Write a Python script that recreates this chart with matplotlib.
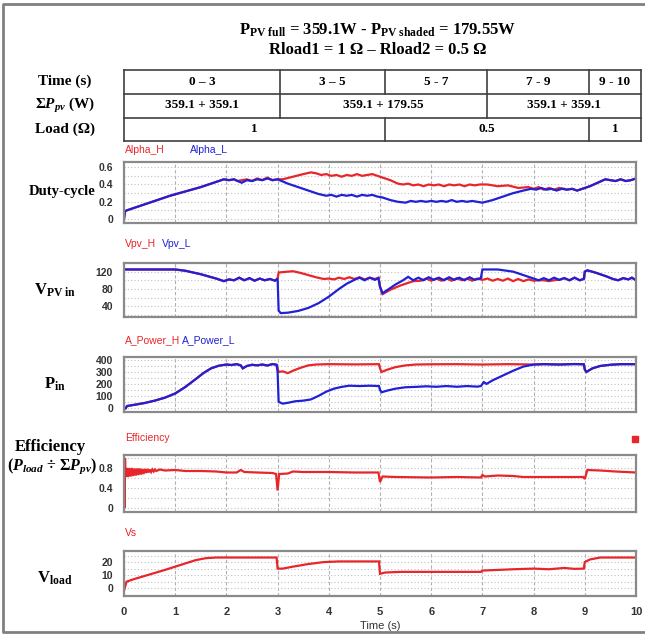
import matplotlib
matplotlib.use("Agg")
import matplotlib.pyplot as plt
import numpy as np
from matplotlib.ticker import MultipleLocator

# ---- data (time s, value) ----
alpha_l = [(0, 0), (0.02, 0.09), (0.05, 0.10), (0.3, 0.15), (0.6, 0.21), (0.9, 0.27),
           (1.2, 0.32), (1.5, 0.37), (1.8, 0.43), (1.95, 0.46), (2.05, 0.45), (2.15, 0.46),
           (2.22, 0.44), (2.3, 0.42), (2.4, 0.45), (2.5, 0.44), (2.6, 0.46), (2.7, 0.45),
           (2.8, 0.47), (2.9, 0.45), (3.0, 0.46), (3.2, 0.41), (3.4, 0.37), (3.6, 0.33),
           (3.8, 0.29), (3.95, 0.27), (4.05, 0.28), (4.15, 0.26), (4.25, 0.28), (4.35, 0.27),
           (4.45, 0.28), (4.55, 0.26), (4.65, 0.28), (4.75, 0.27), (4.85, 0.28), (4.95, 0.26),
           (5.05, 0.25), (5.2, 0.22), (5.35, 0.20), (5.5, 0.19), (5.6, 0.21), (5.7, 0.20),
           (5.8, 0.21), (5.9, 0.20), (6.0, 0.21), (6.1, 0.20), (6.2, 0.21), (6.3, 0.20),
           (6.4, 0.22), (6.5, 0.20), (6.6, 0.21), (6.7, 0.20), (6.8, 0.21), (6.9, 0.20),
           (7.0, 0.19), (7.2, 0.22), (7.4, 0.26), (7.6, 0.30), (7.8, 0.33), (7.95, 0.35),
           (8.05, 0.34), (8.15, 0.36), (8.25, 0.34), (8.35, 0.35), (8.45, 0.33), (8.55, 0.35),
           (8.65, 0.34), (8.75, 0.35), (8.85, 0.33), (8.95, 0.35), (9.1, 0.38), (9.25, 0.42),
           (9.4, 0.46), (9.5, 0.45), (9.6, 0.44), (9.7, 0.46), (9.8, 0.44), (9.9, 0.45),
           (10.0, 0.47)]
alpha_h_own = [(2.3, 0.45), (2.4, 0.46), (2.5, 0.44), (2.6, 0.47), (2.7, 0.45), (2.8, 0.48),
               (2.9, 0.45), (3.0, 0.46), (3.1, 0.46), (3.3, 0.49), (3.5, 0.52), (3.65, 0.54),
               (3.75, 0.53), (3.85, 0.51), (3.95, 0.52), (4.05, 0.50), (4.15, 0.51), (4.25, 0.49),
               (4.35, 0.51), (4.45, 0.50), (4.55, 0.52), (4.65, 0.50), (4.75, 0.51), (4.85, 0.52),
               (4.95, 0.50), (5.05, 0.48), (5.2, 0.45), (5.35, 0.41), (5.45, 0.40), (5.55, 0.41),
               (5.65, 0.39), (5.75, 0.40), (5.85, 0.38), (5.95, 0.40), (6.05, 0.39), (6.15, 0.40),
               (6.25, 0.38), (6.35, 0.40), (6.45, 0.39), (6.55, 0.40), (6.65, 0.38), (6.75, 0.40),
               (6.85, 0.39), (6.95, 0.40), (7.1, 0.40), (7.3, 0.38), (7.5, 0.39), (7.7, 0.36),
               (7.9, 0.37), (8.0, 0.35), (8.1, 0.37), (8.2, 0.34), (8.3, 0.36), (8.4, 0.34),
               (8.5, 0.36), (8.6, 0.35)]

vpv_l = [(0, 125), (0.5, 125), (1.0, 125), (1.2, 122), (1.5, 114), (1.8, 104), (1.95, 98),
         (2.05, 102), (2.15, 100), (2.25, 106), (2.35, 100), (2.45, 105), (2.55, 99), (2.65, 104),
         (2.75, 100), (2.85, 103), (2.95, 99), (3.0, 104), (3.02, 30), (3.06, 24), (3.2, 25),
         (3.4, 29), (3.6, 36), (3.8, 47), (4.0, 62), (4.2, 80), (4.35, 92), (4.5, 101), (4.6, 106),
         (4.7, 100), (4.8, 106), (4.9, 101), (4.97, 105), (5.0, 85), (5.05, 70), (5.15, 78),
         (5.3, 90), (5.45, 100), (5.55, 108), (5.65, 100), (5.75, 106), (5.85, 100), (5.95, 107),
         (6.05, 101), (6.15, 106), (6.25, 100), (6.35, 107), (6.45, 101), (6.55, 106), (6.65, 100),
         (6.75, 107), (6.85, 101), (6.97, 105), (7.0, 125), (7.3, 125), (7.6, 120), (7.8, 112),
         (8.0, 104), (8.1, 100), (8.2, 105), (8.3, 100), (8.4, 106), (8.5, 101), (8.6, 105),
         (8.7, 100), (8.8, 106), (8.9, 100), (8.98, 103), (9.0, 120), (9.05, 123), (9.2, 118),
         (9.4, 110), (9.55, 103), (9.65, 100), (9.75, 105), (9.85, 102), (9.92, 106), (10.0, 100)]
vpv_h_own = [(3.02, 118), (3.2, 120), (3.3, 121), (3.45, 117), (3.6, 112), (3.75, 107), (3.9, 103),
             (4.0, 104), (4.1, 102), (4.2, 106), (4.3, 103), (4.4, 107), (4.5, 103), (4.6, 107),
             (4.7, 102), (4.8, 106), (4.9, 103), (4.97, 106), (5.0, 85), (5.05, 68), (5.2, 78),
             (5.4, 88), (5.55, 94), (5.65, 98), (5.8, 99), (5.9, 104), (6.0, 99), (6.1, 104),
             (6.2, 99), (6.3, 104), (6.4, 99), (6.5, 105), (6.6, 100), (6.7, 104), (6.8, 99),
             (6.9, 104), (7.0, 101), (7.1, 104), (7.2, 99), (7.3, 103), (7.4, 99), (7.5, 104),
             (7.6, 98), (7.7, 103), (7.8, 98), (7.9, 102), (8.0, 99), (8.1, 100), (8.2, 100),
             (8.3, 98), (8.45, 101)]

pin_l = [(0, 0), (0.03, -5), (0.06, 15), (0.2, 25), (0.4, 40), (0.6, 60), (0.8, 85), (1.0, 120),
         (1.2, 175), (1.4, 240), (1.55, 290), (1.7, 330), (1.85, 352), (2.0, 362), (2.1, 358),
         (2.2, 365), (2.28, 355), (2.32, 330), (2.4, 350), (2.5, 360), (2.6, 355), (2.7, 362),
         (2.8, 354), (2.9, 366), (2.98, 360), (3.0, 300), (3.02, 50), (3.1, 35), (3.2, 42),
         (3.35, 55), (3.5, 60), (3.65, 70), (3.8, 100), (3.95, 135), (4.1, 160), (4.25, 175),
         (4.4, 185), (4.6, 182), (4.8, 185), (4.98, 182), (5.0, 150), (5.03, 130), (5.15, 145),
         (5.3, 160), (5.5, 172), (5.7, 175), (5.9, 180), (6.1, 176), (6.3, 182), (6.5, 176),
         (6.7, 182), (6.9, 177), (6.97, 182), (7.03, 215), (7.08, 200), (7.2, 230), (7.4, 270),
         (7.6, 310), (7.8, 345), (8.0, 362), (8.2, 365), (8.5, 362), (8.8, 366), (8.98, 364),
         (9.0, 320), (9.03, 300), (9.15, 330), (9.3, 350), (9.5, 360), (9.7, 365), (10.0, 365)]
pin_h_own = [(3.0, 330), (3.02, 300), (3.1, 305), (3.2, 290), (3.3, 310), (3.45, 335), (3.6, 355),
             (3.75, 362), (4.0, 365), (4.5, 363), (4.98, 365), (5.0, 330), (5.03, 300), (5.15, 320),
             (5.3, 340), (5.5, 355), (5.7, 362), (6.0, 364), (6.5, 365), (7.0, 362), (7.5, 365),
             (7.9, 363)]

efficiency = [(0, 0), (0.005, 1.0), (0.012, 0.0), (0.02, 1.0), (0.03, 0.62), (0.055, 0.80),
              (0.08, 0.62), (0.105, 0.80), (0.13, 0.63), (0.155, 0.80), (0.18, 0.64),
              (0.205, 0.79), (0.23, 0.65), (0.255, 0.79), (0.28, 0.66), (0.305, 0.79),
              (0.33, 0.67), (0.355, 0.78), (0.38, 0.68), (0.405, 0.78), (0.43, 0.70),
              (0.455, 0.78), (0.48, 0.71), (0.505, 0.77), (0.53, 0.72), (0.555, 0.77),
              (0.58, 0.73), (0.605, 0.77), (0.63, 0.74), (0.7, 0.77), (0.8, 0.75), (1.0, 0.76),
              (1.2, 0.74), (1.5, 0.74), (1.8, 0.73), (2.0, 0.71), (2.2, 0.71), (2.28, 0.76),
              (2.35, 0.72), (2.6, 0.71), (2.9, 0.70), (2.97, 0.68), (3.0, 0.35), (3.03, 0.68),
              (3.2, 0.69), (3.3, 0.73), (3.5, 0.72), (4.0, 0.72), (4.5, 0.71), (4.97, 0.71),
              (5.0, 0.52), (5.05, 0.63), (5.3, 0.62), (6.0, 0.61), (6.5, 0.62), (6.97, 0.61),
              (7.0, 0.66), (7.05, 0.63), (7.3, 0.65), (7.6, 0.64), (7.8, 0.62), (8.5, 0.62),
              (8.97, 0.62), (9.0, 0.58), (9.05, 0.76), (9.3, 0.75), (9.6, 0.73), (10.0, 0.71)]

vs = [(0, -2), (0.02, 1), (0.05, 5), (0.2, 7), (0.5, 10.5), (0.8, 14), (1.0, 16.5), (1.2, 19),
      (1.4, 21.5), (1.6, 23), (1.8, 23.5), (2.5, 23.5), (2.98, 23.5), (3.0, 15), (3.1, 15),
      (3.3, 16.5), (3.6, 18.5), (3.9, 20), (4.2, 20.5), (4.98, 20.5), (5.0, 11), (5.1, 12),
      (5.4, 12.5), (6.0, 12.5), (6.97, 12.5), (7.0, 13.5), (7.3, 14), (7.6, 14.5), (8.0, 15),
      (8.3, 14.5), (8.6, 15.5), (8.8, 14.8), (8.98, 15), (9.0, 20), (9.1, 22), (9.3, 23.5),
      (10.0, 23.5)]

# table contents
time_ranges = ["0 – 3", "3 – 5", "5 - 7", "7 - 9", "9 - 10"]
ppv_sums = ["359.1 + 359.1", "359.1 + 179.55", "359.1 + 359.1"]
loads = ["1", "0.5", "1"]


def merge_series(base, own, t0, t1):
    # red trace equals blue outside [t0, t1]
    pre = [p for p in base if p[0] < t0]
    post = [p for p in base if p[0] > t1]
    return np.array(pre + own + post).T


RED = '#e8262a'
BLUE = '#2020d6'
W, H = 645, 637

plt.rcParams['mathtext.fontset'] = 'custom'
plt.rcParams['mathtext.rm'] = 'Liberation Serif:bold'
plt.rcParams['mathtext.it'] = 'Liberation Serif:italic:bold'
plt.rcParams['mathtext.bf'] = 'Liberation Serif:bold'

SERIF = dict(family='Liberation Serif', fontweight='bold')
NARROW = ['Liberation Sans Narrow', 'Liberation Sans']

fig = plt.figure(figsize=(W / 100, H / 100), dpi=100)
over = fig.add_axes([0, 0, 1, 1])
over.set_xlim(0, W)
over.set_ylim(H, 0)
over.axis('off')


def px_rect(left, top, right, bottom):
    return [left / W, 1 - bottom / H, (right - left) / W, (bottom - top) / H]


# outer frame
over.plot([646, 3, 3, 646], [4, 4, 632, 632], color='#808080', lw=2)

# title
over.text(378, 30, r"P$_{\mathrm{PV\ full}}$ = 359.1W - P$_{\mathrm{PV\ shaded}}$ = 179.55W",
          ha='center', va='center', fontsize=12, **SERIF)
over.text(378, 50, "Rload1 = 1 Ω – Rload2 = 0.5 Ω", ha='center', va='center',
          fontsize=12, **SERIF)

# table
tl, tr = 124, 641
rows = [70, 93.5, 117.5, 141]
for y in rows:
    over.plot([tl, tr], [y, y], color='#404040', lw=1.2)
over.plot([tl, tl], [rows[0], rows[-1]], color='#404040', lw=1.2)
over.plot([tr, tr], [rows[0], rows[-1]], color='#404040', lw=1.2)
cols = [[124, 280, 385, 487, 589, 641], [124, 280, 487, 641], [124, 385, 589, 641]]
cells = [time_ranges, ppv_sums, loads]
for r, (edges, labels) in enumerate(zip(cols, cells)):
    y0, y1 = rows[r], rows[r + 1]
    for x in edges[1:-1]:
        over.plot([x, x], [y0, y1], color='#404040', lw=1.2)
    for a, b, lab in zip(edges[:-1], edges[1:], labels):
        over.text((a + b) / 2, (y0 + y1) / 2, lab, ha='center', va='center',
                  fontsize=9.5, **SERIF)
for y, lab in zip([81.5, 105.5, 129.5],
                  ["Time (s)", r"$\Sigma P_{pv}$ (W)", "Load (Ω)"]):
    over.text(65, y, lab, ha='center', va='center', fontsize=11, **SERIF)

# left labels
over.text(62, 191, "Duty-cycle", ha='center', va='center', fontsize=10.5, **SERIF)
over.text(55, 290, r"V$_{\mathrm{PV\ in}}$", ha='center', va='center', fontsize=12, **SERIF)
over.text(55, 384, r"P$_{\mathrm{in}}$", ha='center', va='center', fontsize=12, **SERIF)
over.text(50, 447, "Efficiency", ha='center', va='center', fontsize=12, **SERIF)
over.text(52, 466, r"($P_{load}$ ÷ $\Sigma P_{pv}$)", ha='center', va='center',
          fontsize=11.5, **SERIF)
over.text(55, 578, r"V$_{\mathrm{load}}$", ha='center', va='center', fontsize=12, **SERIF)

# red marker next to the efficiency trace name
over.add_patch(plt.Rectangle((632, 436), 6, 6, color=RED))

panels = [
    dict(box=(124, 162, 636, 223), ylim=(-0.045, 0.66), ticks=[0, 0.2, 0.4, 0.6],
         labels=["0", "0.2", "0.4", "0.6"], minor=0.1,
         series=[(merge_series(alpha_l, alpha_h_own, 2.3, 8.6), RED),
                 (np.array(alpha_l).T, BLUE)],
         names=[("Alpha_H", RED, 125), ("Alpha_L", BLUE, 190)], name_y=150),
    dict(box=(124, 263, 636, 317), ylim=(15, 140), ticks=[40, 80, 120],
         labels=["40", "80", "120"], minor=20,
         series=[(merge_series(vpv_l, vpv_h_own, 3.01, 8.46), RED),
                 (np.array(vpv_l).T, BLUE)],
         names=[("Vpv_H", RED, 125), ("Vpv_L", BLUE, 162)], name_y=244),
    dict(box=(124, 357, 636, 412), ylim=(-35, 425), ticks=[0, 100, 200, 300, 400],
         labels=["0", "100", "200", "300", "400"], minor=50,
         series=[(merge_series(pin_l, pin_h_own, 2.99, 7.95), RED),
                 (np.array(pin_l).T, BLUE)],
         names=[("A_Power_H", RED, 125), ("A_Power_L", BLUE, 182)], name_y=340),
    dict(box=(124, 455, 636, 512), ylim=(-0.08, 1.06), ticks=[0, 0.4, 0.8],
         labels=["0", "0.4", "0.8"], minor=0.2,
         series=[(np.array(efficiency).T, RED)],
         names=[("Efficiency", RED, 125)], name_y=438),
    dict(box=(124, 551, 636, 596), ylim=(-6, 28.5), ticks=[0, 10, 20],
         labels=["0", "10", "20"], minor=5,
         series=[(np.array(vs).T, RED)],
         names=[("Vs", RED, 125)], name_y=533),
]

for i, p in enumerate(panels):
    ax = fig.add_axes(px_rect(*p['box']))
    for (t, v), c in p['series']:
        ax.plot(t, v, color=c, lw=1.6, solid_joinstyle='miter')
    ax.set_xlim(0, 10)
    ax.set_ylim(*p['ylim'])
    ax.set_yticks(p['ticks'])
    ax.set_yticklabels(p['labels'], family=NARROW, fontweight='bold', fontsize=7.5,
                       color='#333333')
    ax.yaxis.set_minor_locator(MultipleLocator(p['minor']))
    ax.set_xticks(range(11))
    ax.grid(True, which='major', axis='x', color='#b0b0b0', ls=(0, (3, 2)), lw=0.8)
    ax.grid(True, which='both', axis='y', color='#c0c0c0', ls=(0, (1, 2)), lw=0.8)
    ax.tick_params(length=0, pad=8)
    ax.tick_params(which='minor', length=0)
    for s in ax.spines.values():
        s.set_color('#8a8a8a')
        s.set_linewidth(1.6)
    if i == len(panels) - 1:
        ax.set_xticklabels([str(k) for k in range(11)], family=NARROW, fontweight='bold',
                           fontsize=8, color='#333333')
        ax.tick_params(axis='x', pad=8)
        ax.set_xlabel("Time (s)", family=NARROW, fontsize=8, color='#333333', labelpad=3)
    else:
        ax.set_xticklabels([])
    for name, c, x in p['names']:
        over.text(x, p['name_y'], name, color=c, ha='left', va='center', fontsize=7.5,
                  family=NARROW)

fig.savefig("out.png", dpi=100)
